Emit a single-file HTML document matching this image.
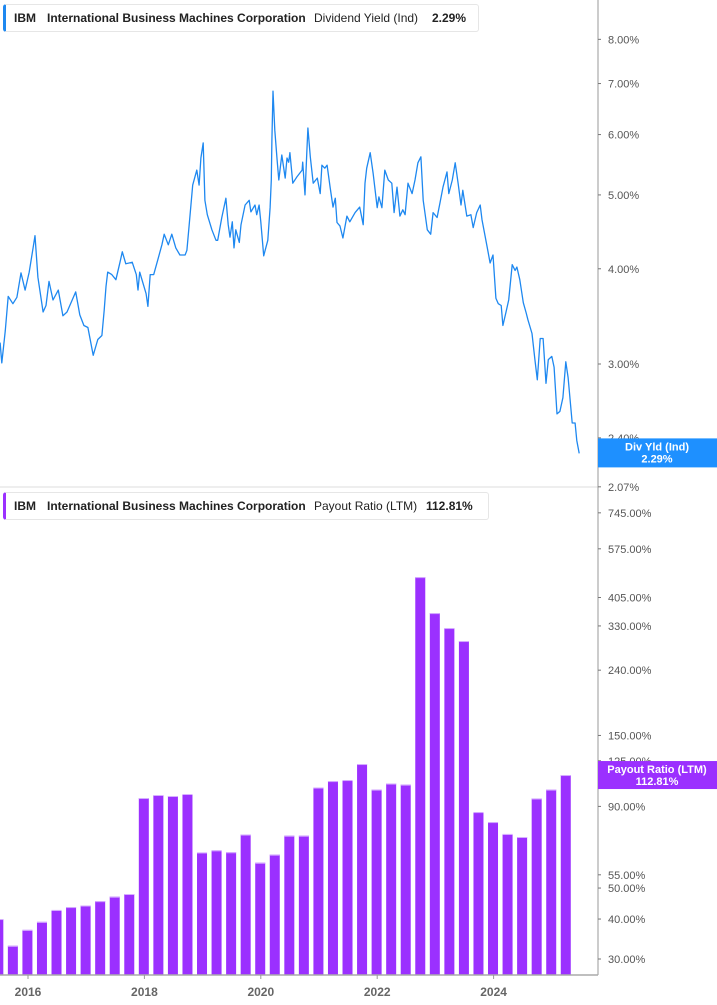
<!DOCTYPE html>
<html><head><meta charset="utf-8"><style>
body{margin:0;background:#fff;font-family:"Liberation Sans",sans-serif;}
svg{display:block}
.leg{position:absolute;left:3px;height:26px;background:#fff;border:1px solid #e6e6e6;border-left:3px solid #1e88f0;border-radius:3px;font-size:12px;line-height:26px;color:#222;white-space:nowrap}
.leg span{position:absolute;top:0}
.b{font-weight:bold}
</style></head><body>
<div style="position:relative;width:717px;height:1005px;overflow:hidden">
<svg id="svg" width="717" height="1005"></svg>
<div class="leg" style="top:4px;width:472px">
<span class="b" style="left:8px">IBM</span><span class="b" style="left:41px">International Business Machines Corporation</span><span style="left:308px">Dividend Yield (Ind)</span><span class="b" style="left:426px">2.29%</span></div>
<div class="leg" style="top:492px;width:482px;border-left-color:#9b30ff">
<span class="b" style="left:8px">IBM</span><span class="b" style="left:41px">International Business Machines Corporation</span><span style="left:308px">Payout Ratio (LTM)</span><span class="b" style="left:420px">112.81%</span></div>
</div>
<script>
const yieldDates=[15.52,15.55,15.61,15.66,15.74,15.81,15.88,15.95,16.02,16.09,16.12,16.17,16.26,16.31,16.36,16.43,16.52,16.60,16.67,16.76,16.82,16.89,16.96,17.03,17.12,17.20,17.27,17.31,17.34,17.37,17.44,17.51,17.58,17.62,17.68,17.79,17.86,17.89,17.92,18.03,18.06,18.10,18.16,18.23,18.30,18.34,18.41,18.47,18.54,18.61,18.70,18.73,18.77,18.80,18.83,18.90,18.94,18.97,19.01,19.04,19.08,19.16,19.23,19.26,19.33,19.40,19.44,19.47,19.51,19.54,19.57,19.63,19.66,19.73,19.80,19.83,19.90,19.93,19.97,20.00,20.05,20.12,20.16,20.18,20.19,20.21,20.24,20.28,20.31,20.36,20.42,20.45,20.48,20.50,20.55,20.62,20.71,20.72,20.76,20.79,20.81,20.85,20.90,20.97,21.02,21.05,21.10,21.14,21.19,21.24,21.28,21.31,21.36,21.41,21.48,21.53,21.62,21.70,21.76,21.79,21.82,21.88,21.93,22.00,22.03,22.08,22.13,22.19,22.25,22.29,22.34,22.39,22.44,22.48,22.53,22.60,22.65,22.70,22.75,22.79,22.86,22.92,22.96,23.03,23.08,23.13,23.20,23.23,23.29,23.34,23.39,23.44,23.47,23.54,23.61,23.65,23.71,23.77,23.80,23.89,23.94,23.99,24.04,24.08,24.13,24.16,24.21,24.26,24.32,24.37,24.40,24.45,24.51,24.56,24.59,24.66,24.71,24.75,24.80,24.85,24.90,24.94,25.00,25.04,25.09,25.14,25.19,25.24,25.28,25.35,25.40,25.43,25.47];
const yieldValues=[3.20,3.01,3.32,3.68,3.60,3.67,3.95,3.75,3.96,4.27,4.42,3.90,3.51,3.58,3.85,3.64,3.75,3.47,3.51,3.64,3.73,3.48,3.37,3.35,3.08,3.23,3.27,3.53,3.79,3.96,3.93,3.87,4.08,4.21,4.06,4.08,3.93,3.75,3.96,3.71,3.57,3.93,3.93,4.11,4.30,4.44,4.30,4.44,4.26,4.17,4.17,4.23,4.57,4.86,5.15,5.39,5.15,5.59,5.85,4.92,4.71,4.50,4.36,4.36,4.67,4.95,4.57,4.40,4.61,4.26,4.50,4.33,4.57,4.85,4.92,4.75,4.85,4.71,4.85,4.61,4.16,4.36,4.81,5.23,5.90,6.84,6.08,5.56,5.23,5.64,5.26,5.59,5.52,5.68,5.18,5.28,5.39,5.52,5.00,5.68,6.12,5.61,5.18,5.26,5.02,5.47,5.42,5.47,5.12,4.82,4.95,4.60,4.55,4.39,4.69,4.61,4.74,4.82,4.57,5.18,5.42,5.68,5.34,4.81,4.97,4.81,5.39,5.23,5.18,4.74,5.12,4.69,4.78,4.71,5.18,5.02,5.23,5.51,5.61,4.92,4.50,4.44,4.74,4.67,4.89,5.12,5.36,5.02,5.23,5.51,5.18,4.85,5.07,4.69,4.71,4.53,4.74,4.85,4.64,4.27,4.07,4.17,3.66,3.60,3.58,3.37,3.50,3.64,4.05,3.98,4.02,3.87,3.61,3.50,3.43,3.29,3.04,2.86,3.24,3.24,2.83,3.04,3.07,2.97,2.58,2.60,2.71,3.02,2.88,2.51,2.51,2.38,2.29];
const quarters=["2015Q2","2015Q3","2015Q4","2016Q1","2016Q2","2016Q3","2016Q4","2017Q1","2017Q2","2017Q3","2017Q4","2018Q1","2018Q2","2018Q3","2018Q4","2019Q1","2019Q2","2019Q3","2019Q4","2020Q1","2020Q2","2020Q3","2020Q4","2021Q1","2021Q2","2021Q3","2021Q4","2022Q1","2022Q2","2022Q3","2022Q4","2023Q1","2023Q2","2023Q3","2023Q4","2024Q1","2024Q2","2024Q3","2024Q4","2025Q1"];
const payout=[40.0,33.0,37.0,39.2,42.7,43.6,44.1,45.5,47.0,47.9,95.6,97.7,97.0,98.4,64.6,65.6,64.7,73.5,60.0,63.6,72.9,72.9,103.1,108.0,108.8,122.1,101.6,106.1,105.3,469,362,325,296,86.4,80.4,73.8,72.2,95.3,101.6,112.8];
const yieldTicks=[8,7,6,5,4,3,2.4,2.07];
const payoutTicks=[745,575,405,330,240,150,125,90,55,50,40,30];
const yearTicks=[2016,2018,2020,2022,2024];

const NS="http://www.w3.org/2000/svg";
const svg=document.getElementById('svg');
function mk(t,a,p){const e=document.createElementNS(NS,t);for(const k in a)e.setAttribute(k,a[k]);(p||svg).appendChild(e);return e;}
const xOf=y=>28+(y-2016)*58.2;
const yTop=v=>364-331*Math.log(v/3);
const yBot=v=>959-138.9*Math.log(v/30);
const AX=598, BASE=975;

let e=mk('line',{x1:0,y1:487,x2:AX,y2:487,stroke:'#dcdcdc'});


e=mk('line',{x1:AX,y1:0,x2:AX,y2:BASE,stroke:'#999'});



quarters.forEach((q,i)=>{
  const d=+q.slice(0,4)+(+q[5]-1)*0.25+0.24;
  const x=xOf(d);
  const top=yBot(payout[i]);
  const r=mk('rect',{x:x-5,y:top,width:10,height:BASE-top,fill:'#9b30ff'});
  
  
  const l=mk('line',{x1:x-5,y1:top+0.5,x2:x+5,y2:top+0.5,stroke:'#d6b0ff'});
  
  
});

e=mk('line',{x1:0,y1:BASE,x2:AX,y2:BASE,stroke:'#aaa','stroke-width':1.5});



let dstr=yieldDates.map((d,i)=>(i?'L':'M')+xOf(2000+d).toFixed(1)+','+yTop(yieldValues[i]).toFixed(1)).join(' ');
e=mk('path',{d:dstr,fill:'none',stroke:'#1e88f0','stroke-width':1.3,'stroke-linejoin':'round'});



yieldTicks.forEach(v=>{const y=yTop(v);
  mk('line',{x1:AX,y1:y,x2:AX+3,y2:y,stroke:'#777'});
  const t=mk('text',{x:608,y:y+4,'font-size':11,fill:'#555'});t.textContent=v.toFixed(2)+'%';
  
  
});
payoutTicks.forEach(v=>{const y=yBot(v);
  mk('line',{x1:AX,y1:y,x2:AX+3,y2:y,stroke:'#777'});
  const t=mk('text',{x:608,y:y+4,'font-size':11,fill:'#555'});t.textContent=v.toFixed(2)+'%';
  
  
});
yearTicks.forEach(yr=>{const x=xOf(yr);
  mk('line',{x1:x,y1:BASE,x2:x,y2:BASE+4,stroke:'#999'});
  const t=mk('text',{x:x,y:996,'font-size':12,'font-weight':'bold',fill:'#666','text-anchor':'middle'});t.textContent=yr;
  
  
});

function box(y,h,col,l1,l2,name){
  const g=mk('g',{});
  
  
  mk('rect',{x:AX,y:y,width:119,height:h,fill:col},g);
  let t=mk('text',{x:657,y:y+12,'font-size':11,'font-weight':'bold',fill:'#fff','text-anchor':'middle'},g);t.textContent=l1;
  t=mk('text',{x:657,y:y+24,'font-size':11,'font-weight':'bold',fill:'#fff','text-anchor':'middle'},g);t.textContent=l2;
}
const lastY=yieldValues[yieldValues.length-1], lastP=payout[payout.length-1];
box(yTop(lastY)-15,29,'#1e90ff','Div Yld (Ind)',lastY.toFixed(2)+'%','div-yield-value-box');
box(yBot(lastP)-14,28,'#9b30ff','Payout Ratio (LTM)','112.81%','payout-value-box');
</script>
</body></html>
